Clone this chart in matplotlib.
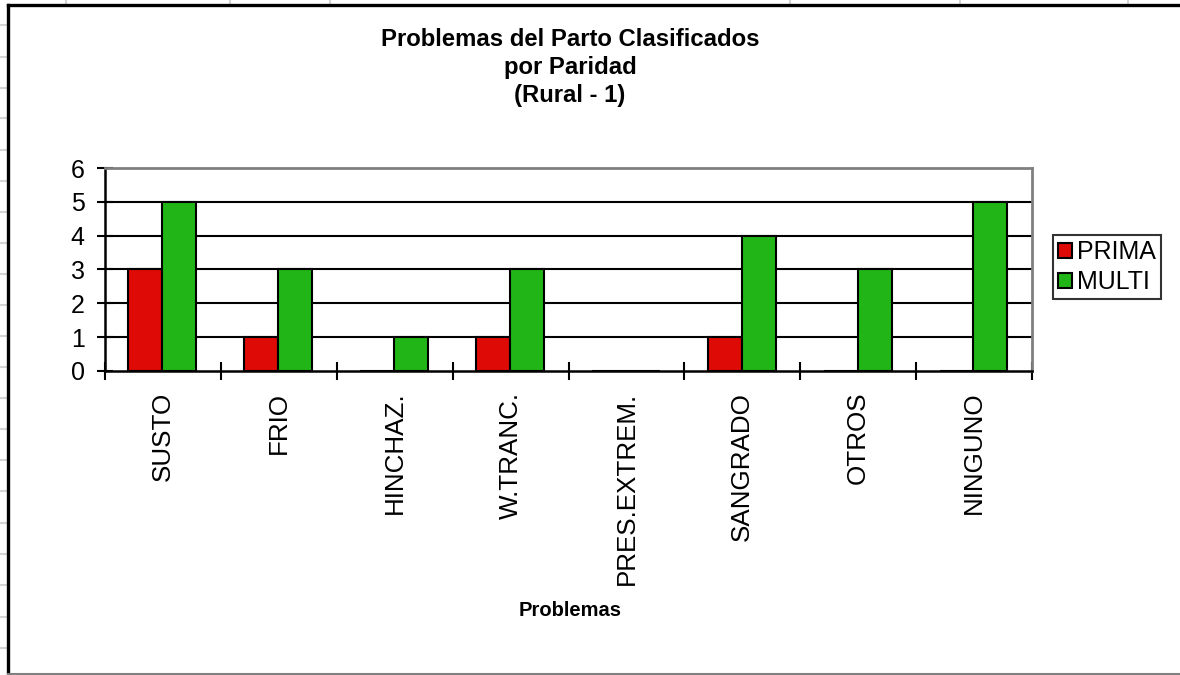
import numpy as np
import matplotlib.pyplot as plt
from matplotlib.lines import Line2D

# Conteos de problemas del parto por paridad (zona rural 1)
problemas = ["SUSTO", "FRIO", "HINCHAZ.", "W.TRANC.", "PRES.EXTREM.",
             "SANGRADO", "OTROS", "NINGUNO"]
prima = [3, 1, 0, 1, 0, 1, 0, 0]
multi = [5, 3, 1, 3, 0, 4, 3, 5]
y_ticks = [0, 1, 2, 3, 4, 5, 6]

plt.rcParams['font.family'] = ['Liberation Sans', 'DejaVu Sans']

fig = plt.figure(figsize=(11.8, 6.75), dpi=100)
ax = fig.add_axes([0.089, 0.4504, 0.7856, 0.3007])

x = np.arange(len(problemas))
ancho = 0.293
ax.bar(x - 0.152, prima, ancho, color='#DE0A06', edgecolor='black',
       linewidth=1.5, label='PRIMA', zorder=3)
ax.bar(x + 0.141, multi, ancho, color='#21B518', edgecolor='black',
       linewidth=1.5, label='MULTI', zorder=3)

ax.set_xlim(-0.5, len(problemas) - 0.5)
ax.set_ylim(0, 6)

# lineas horizontales de la cuadricula
for v in y_ticks[1:-1]:
    ax.axhline(v, color='black', linewidth=1.5, zorder=1)

ax.set_yticks(y_ticks)
ax.tick_params(axis='y', direction='inout', length=11.5, width=1.5,
               labelsize=18, pad=9)

# marcas en los limites de cada categoria, etiquetas al centro
ax.set_xticks(np.arange(len(problemas) + 1) - 0.5)
ax.set_xticklabels([])
ax.set_xticks(x, minor=True)
ax.set_xticklabels(problemas, minor=True, rotation=90, fontsize=18.7)
ax.tick_params(axis='x', which='major', direction='inout', length=13,
               width=1.5)
ax.tick_params(axis='x', which='minor', length=0, pad=15)

for lado in ['left', 'bottom']:
    ax.spines[lado].set_linewidth(1.8)
    ax.spines[lado].set_color('black')
for lado in ['top', 'right']:
    ax.spines[lado].set_linewidth(2)
    ax.spines[lado].set_color('#808080')

fig.text(0.483, 1 - 67.5 / 675,
         "Problemas del Parto Clasificados\npor Paridad\n(Rural - 1)",
         ha='center', va='center', fontsize=17.2, fontweight='bold',
         linespacing=1.27)
fig.text(0.483, 1 - 611 / 675, "Problemas", ha='center', va='center',
         fontsize=14.5, fontweight='bold')

leg = fig.legend(loc='center left', bbox_to_anchor=(1053 / 1180, 1 - 267 / 675),
                 fontsize=18, frameon=True, fancybox=False, shadow=False,
                 handlelength=0.55, handleheight=0.55, handletextpad=0.2,
                 borderpad=0.2, labelspacing=0.25, borderaxespad=0)
leg.get_frame().set_edgecolor('black')
leg.get_frame().set_linewidth(1.5)

# cuadricula de la hoja de calculo alrededor del grafico
for yy in [25, 57, 88, 118, 150, 181, 212, 243, 274, 305, 336, 367, 398,
           429, 460, 491, 523, 554, 585, 617, 648]:
    fig.add_artist(Line2D([0, 7 / 1180], [1 - yy / 675] * 2, color='#d4d4d4',
                          linewidth=1.5))
for xx in [66, 230, 330, 790, 960, 1128]:
    fig.add_artist(Line2D([xx / 1180] * 2, [1, 1 - 4 / 675], color='#d4d4d4',
                          linewidth=1.5))

# marco del grafico: arriba e izquierda negro, abajo gris
fig.add_artist(Line2D([8 / 1180, 1], [1 - 5 / 675] * 2, color='black',
                      linewidth=2.4))
fig.add_artist(Line2D([8 / 1180] * 2, [1 - 5 / 675, 1 - 674 / 675],
                      color='black', linewidth=2.4))
fig.add_artist(Line2D([8 / 1180, 1], [1 - 674 / 675] * 2, color='#808080',
                      linewidth=1.5))

fig.savefig("out.png", dpi=100)
